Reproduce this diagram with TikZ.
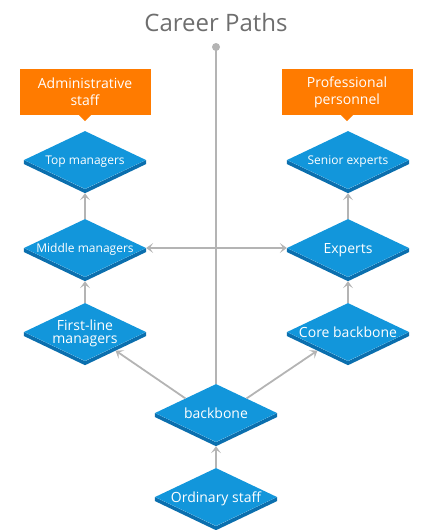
\documentclass[tikz,border=0pt]{standalone}
\usepackage{fontspec}
\setmainfont{Open Sans}
\usetikzlibrary{arrows.meta, calc, shapes.geometric}
\definecolor{tileblue}{HTML}{1296DB}
\definecolor{tileside}{HTML}{0B6FAE}
\definecolor{tagorange}{HTML}{FF7B00}
\definecolor{linegray}{HTML}{B4B4B4}
\definecolor{titlegray}{HTML}{6E6E6E}
\tikzset{
  tile/.style={diamond, aspect=2.1, fill=tileblue, text=white, minimum width=122pt, minimum height=58pt,
    inner sep=-4pt, text depth=0pt, align=center, font=\fontsize{14}{13}\selectfont,
    append after command={\pgfextra{\fill[tileside] (\tikzlastnode.west) -- (\tikzlastnode.south) -- (\tikzlastnode.east)
      -- ($(\tikzlastnode.east)+(0,4)$) -- ($(\tikzlastnode.south)+(0,4)$) -- ($(\tikzlastnode.west)+(0,4)$) -- cycle;}}},
  small/.style={font=\fontsize{12}{12}\selectfont},
  tag/.style={fill=tagorange, text=white, minimum width=131pt, minimum height=46pt, inner sep=0pt,
    align=center, font=\fontsize{14}{17}\selectfont},
  link/.style={draw=linegray, line width=1.8pt, ->},
}

\begin{document}
\begin{tikzpicture}[x=1pt, y=-1pt, >={Stealth[length=7pt, width=10pt, inset=3.5pt]}]
\useasboundingbox (0,0) rectangle (431,530);
\node[text=titlegray, font=\fontsize{24}{24}\selectfont] (title) at (216,22) {Career Paths};
\coordinate (root) at (216,47);
% career tags
\node[tag] (adm) at (85,92) {Administrative\\staff};
\node[tag] (pro) at (347,92) {Professional\\personnel};
\fill[tagorange] ($(adm.south)+(-6,0)$) -- ($(adm.south)+(6,0)$) -- ($(adm.south)+(0,6)$) -- cycle;
\fill[tagorange] ($(pro.south)+(-6,0)$) -- ($(pro.south)+(6,0)$) -- ($(pro.south)+(0,6)$) -- cycle;
% levels
\node[tile, small] (topm) at (85,160) {Top managers};
\node[tile, small] (midm) at (85,248) {Middle managers};
\node[tile] (flm) at (85,332) {First-line\\managers};
\node[tile, small] (senx) at (348,160) {Senior experts};
\node[tile] (expt) at (348,248) {Experts};
\node[tile] (core) at (348,332) {Core backbone};
\node[tile] (bb) at (216,413) {backbone};
\node[tile] (ord) at (216,497) {Ordinary staff};
% links
\draw[link, -] (bb.north) -- (root);
\fill[linegray] (root) circle (4);
\draw[link, <->] (midm.east) -- (expt.west);
\draw[link] (midm.north) -- ($(topm.south)+(0,4)$);
\draw[link] (flm.north) -- ($(midm.south)+(0,4)$);
\draw[link] (expt.north) -- ($(senx.south)+(0,4)$);
\draw[link] (core.north) -- ($(expt.south)+(0,4)$);
\draw[link] (bb.north west) -- ($(flm.south east)+(0,4)$);
\draw[link] (bb.north east) -- ($(core.south west)+(0,4)$);
\draw[link] (ord.north) -- ($(bb.south)+(0,4)$);
\end{tikzpicture}
\end{document}
